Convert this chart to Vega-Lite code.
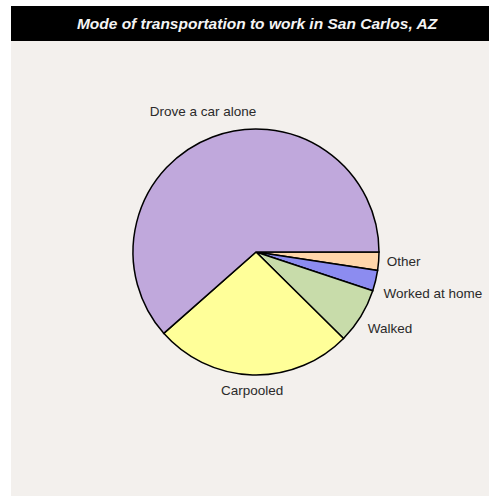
{
  "$schema": "https://vega.github.io/schema/vega-lite/v6.json",
  "background": "white",
  "padding": {"left": 11, "top": 6, "right": 0, "bottom": 0},
  "config": {"view": {"stroke": null}, "font": "Liberation Sans"},
  "datasets": {
    "modes": [
      {"mode": "Other", "pct": 2.4, "rank": 1},
      {"mode": "Worked at home", "pct": 2.7, "rank": 2},
      {"mode": "Walked", "pct": 7.3, "rank": 3},
      {"mode": "Carpooled", "pct": 26.1, "rank": 4},
      {"mode": "Drove a car alone", "pct": 61.5, "rank": 5}
    ],
    "heading": [{"t": "Mode of transportation to work in San Carlos, AZ"}]
  },
  "vconcat": [
    {
      "width": 478,
      "height": 35,
      "view": {"fill": "black", "stroke": null},
      "data": {"name": "heading"},
      "mark": {"type": "text", "fontSize": 15.5, "fontWeight": "bold", "fontStyle": "italic", "color": "#f4f4f4", "align": "center", "baseline": "middle", "dx": 7},
      "encoding": {"text": {"field": "t"}}
    },
    {
      "hconcat": [
        {
          "width": 12,
          "height": 422,
          "view": {"fill": "#f3f0ed", "stroke": null},
          "data": {"values": []},
          "mark": "point"
        },
        {
          "width": 466,
          "height": 422,
          "view": {"fill": "#f3f0ed", "stroke": null},
          "data": {"name": "modes"},
          "encoding": {
            "theta": {"field": "pct", "type": "quantitative", "stack": true, "scale": {"range": [1.5708, 7.854]}},
            "order": {"field": "rank", "type": "quantitative"}
          },
          "layer": [
            {
              "mark": {"type": "arc", "outerRadius": 123, "stroke": "black", "strokeWidth": 1.5},
              "encoding": {
                "color": {
                  "field": "mode",
                  "type": "nominal",
                  "legend": null,
                  "scale": {
                    "domain": ["Drove a car alone", "Carpooled", "Walked", "Worked at home", "Other"],
                    "range": ["#c0a8dc", "#ffff99", "#c8dcaa", "#8c8cf0", "#ffd6aa"]
                  }
                }
              }
            },
            {
              "mark": {"type": "text", "radius": 150, "align": "center", "baseline": "middle", "fontSize": 13.5, "color": "#2a2a2a"},
              "encoding": {"text": {"condition": {"test": "datum.mode === 'Drove a car alone'", "field": "mode"}, "value": ""}}
            },
            {
              "mark": {"type": "text", "radius": 139, "align": "center", "baseline": "middle", "fontSize": 13.5, "color": "#2a2a2a"},
              "encoding": {"text": {"condition": {"test": "datum.mode === 'Carpooled'", "field": "mode"}, "value": ""}}
            },
            {
              "mark": {"type": "text", "radius": 131, "align": "left", "baseline": "middle", "fontSize": 13.5, "color": "#2a2a2a"},
              "encoding": {"text": {"condition": {"test": "datum.mode === 'Other'", "field": "mode"}, "value": ""}}
            },
            {
              "mark": {"type": "text", "radius": 131, "align": "left", "baseline": "middle", "fontSize": 13.5, "color": "#2a2a2a", "dy": 11},
              "encoding": {"text": {"condition": {"test": "datum.mode === 'Worked at home'", "field": "mode"}, "value": ""}}
            },
            {
              "mark": {"type": "text", "radius": 131, "align": "left", "baseline": "middle", "fontSize": 13.5, "color": "#2a2a2a", "dy": 9},
              "encoding": {"text": {"condition": {"test": "datum.mode === 'Walked'", "field": "mode"}, "value": ""}}
            }
          ]
        }
      ],
      "spacing": 0
    },
    {
      "width": 478,
      "height": 33,
      "view": {"fill": "#f3f0ed", "stroke": null},
      "data": {"values": []},
      "mark": "point"
    }
  ],
  "spacing": 0
}
